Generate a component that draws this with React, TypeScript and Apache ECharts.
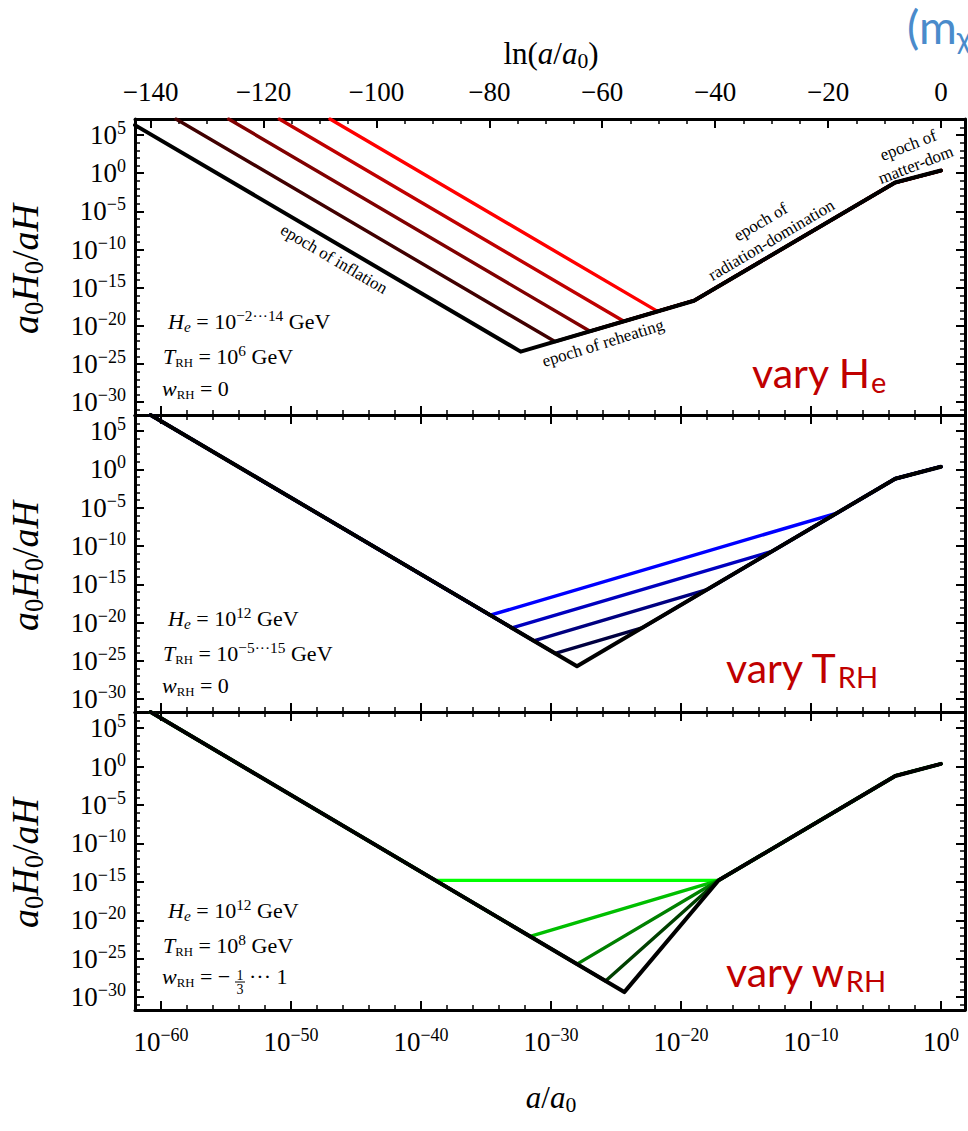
import React, { useEffect, useRef } from "react";
import * as echarts from "echarts";

const SERIF = '"Liberation Serif", "Times New Roman", serif';
const SANS = 'Lato, "Open Sans", sans-serif';

// ---------- axis ranges (log10 units) ----------
const X_MIN = -62;
const X_MAX = 1.85;
const Y_MIN = -31.67;
const Y_MAX = 7.1;
const LN_MIN = X_MIN * Math.LN10;
const LN_MAX = X_MAX * Math.LN10;

// ---------- tick labels ----------
const X_MAJOR_TICKS = [-60, -50, -40, -30, -20, -10, 0];
const X_MINOR_TICKS = [-58, -56, -54, -52, -48, -46, -44, -42, -38, -36, -34, -32, -28, -26, -24, -22, -18, -16, -14, -12, -8, -6, -4, -2];
const Y_MAJOR_TICKS = [-30, -25, -20, -15, -10, -5, 0, 5];
const Y_MINOR_TICKS = [-31, -29, -28, -27, -26, -24, -23, -22, -21, -19, -18, -17, -16, -14, -13, -12, -11, -9, -8, -7, -6, -4, -3, -2, -1, 1, 2, 3, 4, 6, 7];
const LN_MAJOR_TICKS = [-140, -120, -100, -80, -60, -40, -20, 0];
const LN_MINOR_TICKS = [-135, -130, -125, -115, -110, -105, -95, -90, -85, -75, -70, -65, -55, -50, -45, -35, -30, -25, -15, -10, -5];

// ---------- panel 1: vary H_e  ([log10 a/a0, log10 a0H0/aH]) ----------
const HE_1E14 = [[-62, 6.3], [-32.33, -23.37], [-19.0, -16.7], [-3.52, -1.22], [0, 0.35]];
const HE_1E10 = [[-58.85, 7.1], [-29.7, -22.05], [-19.0, -16.7], [-3.52, -1.22], [0, 0.35]];
const HE_1E6 = [[-54.8, 7.1], [-27.0, -20.7], [-19.0, -16.7], [-3.52, -1.22], [0, 0.35]];
const HE_1E2 = [[-50.9, 7.1], [-24.4, -19.4], [-19.0, -16.7], [-3.52, -1.22], [0, 0.35]];
const HE_1EM2 = [[-47.0, 7.1], [-21.8, -18.1], [-19.0, -16.7], [-3.52, -1.22], [0, 0.35]];

// ---------- panel 2: vary T_RH ----------
const TRH_1E15 = [[-60.8, 7.1], [-28.0, -25.7], [-3.52, -1.22], [0, 0.35]];
const TRH_1E10 = [[-60.8, 7.1], [-29.67, -24.03], [-23.0, -20.7], [-3.52, -1.22], [0, 0.35]];
const TRH_1E5 = [[-60.8, 7.1], [-31.33, -22.37], [-18.0, -15.7], [-3.52, -1.22], [0, 0.35]];
const TRH_1E0 = [[-60.8, 7.1], [-33.0, -20.7], [-13.0, -10.7], [-3.52, -1.22], [0, 0.35]];
const TRH_1EM5 = [[-60.8, 7.1], [-34.67, -19.03], [-8.0, -5.7], [-3.52, -1.22], [0, 0.35]];

// ---------- panel 3: vary w_RH ----------
const W_1 = [[-60.8, 7.1], [-24.36, -29.34], [-17.1, -14.8], [-3.52, -1.22], [0, 0.35]];
const W_2_3 = [[-60.8, 7.1], [-25.8, -27.9], [-17.1, -14.8], [-3.52, -1.22], [0, 0.35]];
const W_1_3 = [[-60.8, 7.1], [-28.0, -25.7], [-17.1, -14.8], [-3.52, -1.22], [0, 0.35]];
const W_0 = [[-60.8, 7.1], [-31.6, -22.1], [-17.1, -14.8], [-3.52, -1.22], [0, 0.35]];
const W_M1_3 = [[-60.8, 7.1], [-38.9, -14.8], [-17.1, -14.8], [-3.52, -1.22], [0, 0.35]];

const PANEL1 = [
  { data: HE_1EM2, color: "#ff0000" },
  { data: HE_1E2, color: "#bf0000" },
  { data: HE_1E6, color: "#800000" },
  { data: HE_1E10, color: "#400000" },
  { data: HE_1E14, color: "#000000" },
];
const PANEL2 = [
  { data: TRH_1EM5, color: "#0000ff" },
  { data: TRH_1E0, color: "#0000bf" },
  { data: TRH_1E5, color: "#000080" },
  { data: TRH_1E10, color: "#000040" },
  { data: TRH_1E15, color: "#000000" },
];
const PANEL3 = [
  { data: W_M1_3, color: "#00ff00" },
  { data: W_0, color: "#00bf00" },
  { data: W_1_3, color: "#008000" },
  { data: W_2_3, color: "#004000" },
  { data: W_1, color: "#000000" },
];

const GRID_TOPS = [119, 415, 712];
const GRID_HEIGHTS = [296, 297, 298];

const expFmt = (v: number) =>
  v === 0 ? "{b|10}{s|0}" : v > 0 ? `{b|10}{s|${v}}` : `{b|10}{s|\u2212${-v}}`;

const expRich = {
  b: { fontFamily: SERIF, fontSize: 27, lineHeight: 32, color: "#000" },
  s: { fontFamily: SERIF, fontSize: 18, lineHeight: 20, verticalAlign: "top", color: "#000" },
};

const mathRich = (s: number, fill = "#000") => ({
  r: { fontFamily: SERIF, fontSize: s, lineHeight: s * 1.2, fill, color: fill },
  i: { fontFamily: SERIF, fontStyle: "italic", fontSize: s, lineHeight: s * 1.2, fill, color: fill },
  sb: { fontFamily: SERIF, fontSize: s * 0.7, lineHeight: s * 0.7, verticalAlign: "bottom", fill, color: fill },
  isb: { fontFamily: SERIF, fontStyle: "italic", fontSize: s * 0.7, lineHeight: s * 0.7, verticalAlign: "bottom", fill, color: fill },
  sc: { fontFamily: SERIF, fontSize: s * 0.58, lineHeight: s * 0.7, verticalAlign: "bottom", fill, color: fill },
  sup: { fontFamily: SERIF, fontSize: s * 0.7, lineHeight: s * 0.7, verticalAlign: "top", fill, color: fill },
});

const varyRich = {
  m: { fontFamily: SANS, fontSize: 41, lineHeight: 48, fill: "#c00000", color: "#c00000" },
  s: { fontFamily: SANS, fontSize: 29, lineHeight: 20, verticalAlign: "bottom", fill: "#c00000", color: "#c00000" },
};

function buildXAxes(g: number) {
  const isBottom = g === 2;
  const isTop = g === 0;
  const line = { show: true, onZero: false, lineStyle: { color: "#000", width: 3 } };
  const axes: any[] = [
    {
      type: "value", gridIndex: g, min: X_MIN, max: X_MAX, position: "bottom",
      axisLine: line,
      axisTick: { show: true, inside: true, length: 9, customValues: X_MAJOR_TICKS, lineStyle: { color: "#000", width: 2 } },
      axisLabel: { show: isBottom, customValues: X_MAJOR_TICKS, margin: 16, formatter: expFmt, rich: expRich },
      splitLine: { show: false },
    },
    {
      type: "value", gridIndex: g, min: X_MIN, max: X_MAX, position: "bottom",
      axisLine: { show: false, onZero: false },
      axisTick: { show: true, inside: true, length: 5, customValues: X_MINOR_TICKS, lineStyle: { color: "#000", width: 1.5 } },
      axisLabel: { show: false },
      splitLine: { show: false },
    },
  ];
  if (isTop) {
    axes.push(
      {
        type: "value", gridIndex: g, min: LN_MIN, max: LN_MAX, position: "top",
        axisLine: line,
        axisTick: { show: true, inside: true, length: 9, customValues: LN_MAJOR_TICKS, lineStyle: { color: "#000", width: 2 } },
        axisLabel: {
          show: true, customValues: LN_MAJOR_TICKS, margin: 14,
          formatter: (v: number) => (v === 0 ? "0" : "\u2212" + -v),
          fontFamily: SERIF, fontSize: 27, color: "#000",
        },
        splitLine: { show: false },
      },
      {
        type: "value", gridIndex: g, min: LN_MIN, max: LN_MAX, position: "top",
        axisLine: { show: false, onZero: false },
        axisTick: { show: true, inside: true, length: 5, customValues: LN_MINOR_TICKS, lineStyle: { color: "#000", width: 1.5 } },
        axisLabel: { show: false },
        splitLine: { show: false },
      }
    );
  } else {
    axes.push(
      {
        type: "value", gridIndex: g, min: X_MIN, max: X_MAX, position: "top",
        axisLine: line,
        axisTick: { show: true, inside: true, length: 9, customValues: X_MAJOR_TICKS, lineStyle: { color: "#000", width: 2 } },
        axisLabel: { show: false },
        splitLine: { show: false },
      },
      {
        type: "value", gridIndex: g, min: X_MIN, max: X_MAX, position: "top",
        axisLine: { show: false, onZero: false },
        axisTick: { show: true, inside: true, length: 5, customValues: X_MINOR_TICKS, lineStyle: { color: "#000", width: 1.5 } },
        axisLabel: { show: false },
        splitLine: { show: false },
      }
    );
  }
  return axes;
}

function buildYAxes(g: number) {
  const line = { show: true, onZero: false, lineStyle: { color: "#000", width: 3 } };
  return ["left", "right"].flatMap((pos) => [
    {
      type: "value", gridIndex: g, min: Y_MIN, max: Y_MAX, position: pos,
      axisLine: line,
      axisTick: { show: true, inside: true, length: 9, customValues: Y_MAJOR_TICKS, lineStyle: { color: "#000", width: 2 } },
      axisLabel: { show: pos === "left", customValues: Y_MAJOR_TICKS, margin: 9, formatter: expFmt, rich: expRich },
      splitLine: { show: false },
    },
    {
      type: "value", gridIndex: g, min: Y_MIN, max: Y_MAX, position: pos,
      axisLine: { show: false, onZero: false },
      axisTick: { show: true, inside: true, length: 5, customValues: Y_MINOR_TICKS, lineStyle: { color: "#000", width: 1.5 } },
      axisLabel: { show: false },
      splitLine: { show: false },
    },
  ]);
}

function buildSeries() {
  const out: any[] = [];
  [PANEL1, PANEL2, PANEL3].forEach((panel, g) => {
    panel.forEach((s) => {
      out.push({
        type: "line",
        xAxisIndex: g * 4,
        yAxisIndex: g * 4,
        data: s.data,
        showSymbol: false,
        symbol: "none",
        silent: true,
        lineStyle: { color: s.color, width: s.color === "#000000" ? 4 : 3.4, cap: "round", join: "round" },
      });
    });
  });
  return out;
}

function txt(x: number, y: number, text: string, rich: any, opts: any = {}) {
  return {
    type: "text",
    x,
    y,
    rotation: opts.rotation || 0,
    silent: true,
    style: {
      text,
      rich,
      align: opts.align || "left",
      textAlign: opts.align || "left",
      verticalAlign: opts.va || "top",
      textVerticalAlign: opts.va || "top",
      fill: opts.fill || "#000",
      fontFamily: opts.fontFamily || SERIF,
      fontSize: opts.fontSize || 20,
      lineHeight: opts.lineHeight,
    },
  };
}

function buildGraphics() {
  const m22 = mathRich(22);
  const g: any[] = [];
  // axis titles
  g.push(txt(551, 53, "{r|ln(}{i|a}{r|/}{i|a}{sb|0}{r|)}", mathRich(31), { align: "center", va: "middle" }));
  g.push(txt(551, 1097, "{i|a}{r|/}{i|a}{sb|0}", mathRich(31), { align: "center", va: "middle" }));
  [269, 566, 863].forEach((cy) => {
    g.push(txt(25, cy, "{i|a}{sb|0}{i|H}{sb|0}{r|/}{i|aH}", mathRich(38), { align: "center", va: "middle", rotation: Math.PI / 2 }));
  });
  // panel 1 parameters
  g.push(txt(168, 308, "{i|H}{isb|e}{r| = 10}{sup|\u22122\u00b7\u00b7\u00b714}{r| GeV}", m22));
  g.push(txt(163, 343, "{i|T}{sc|RH}{r| = 10}{sup|6}{r| GeV}", m22));
  g.push(txt(162, 375, "{i|w}{sc|RH}{r| = 0}", m22));
  // panel 2 parameters
  g.push(txt(168, 605, "{i|H}{isb|e}{r| = 10}{sup|12}{r| GeV}", m22));
  g.push(txt(163, 640, "{i|T}{sc|RH}{r| = 10}{sup|\u22125\u00b7\u00b7\u00b715}{r| GeV}", m22));
  g.push(txt(162, 672, "{i|w}{sc|RH}{r| = 0}", m22));
  // panel 3 parameters
  g.push(txt(168, 897, "{i|H}{isb|e}{r| = 10}{sup|12}{r| GeV}", m22));
  g.push(txt(163, 932, "{i|T}{sc|RH}{r| = 10}{sup|8}{r| GeV}", m22));
  g.push(txt(162, 963, "{i|w}{sc|RH}{r| = \u2212}", m22));
  g.push(txt(240, 975, "1", null, { align: "center", va: "middle", fontSize: 14 }));
  g.push(txt(240, 989, "3", null, { align: "center", va: "middle", fontSize: 14 }));
  g.push({ type: "line", silent: true, shape: { x1: 235, y1: 982, x2: 245, y2: 982 }, style: { stroke: "#000", lineWidth: 1 } });
  g.push(txt(249, 963, "{r|\u00b7\u00b7\u00b7 1}", m22));
  // epoch labels
  g.push(txt(334, 259, "epoch of inflation", null, { align: "center", va: "middle", rotation: -0.533, fontSize: 17 }));
  g.push(txt(603, 343, "epoch of reheating", null, { align: "center", va: "middle", rotation: 0.3, fontSize: 17 }));
  g.push(txt(766, 231, "epoch of\nradiation-domination", null, { align: "center", va: "middle", rotation: 0.533, fontSize: 17, lineHeight: 21 }));
  g.push(txt(912, 155, "epoch of\nmatter-dom", null, { align: "center", va: "middle", rotation: 0.37, fontSize: 17, lineHeight: 21 }));
  // vary labels
  g.push(txt(752, 348, "{m|vary H}{s|e}", varyRich, { fill: "#c00000" }));
  g.push(txt(726, 643, "{m|vary T}{s|RH}", varyRich, { fill: "#c00000" }));
  g.push(txt(726, 947, "{m|vary w}{s|RH}", varyRich, { fill: "#c00000" }));
  // blue label that the reference shows cut off at the right edge
  g.push(txt(907, 0, "{m|(m}{s|\u03c7}", {
    m: { fontFamily: SANS, fontSize: 46, lineHeight: 52, fill: "#4a8bcb", color: "#4a8bcb" },
    s: { fontFamily: SANS, fontSize: 30, lineHeight: 20, verticalAlign: "bottom", fill: "#4a8bcb", color: "#4a8bcb" },
  }, { fill: "#4a8bcb" }));
  return g;
}

export default function App() {
  const ref = useRef<HTMLDivElement>(null);
  useEffect(() => {
    if (!ref.current) return;
    const chart = echarts.init(ref.current, null, { renderer: "svg" });
    const option: any = {
      animation: false,
      backgroundColor: "#ffffff",
      grid: GRID_TOPS.map((t, i) => ({ left: 135, right: 3, top: t, height: GRID_HEIGHTS[i] })),
      xAxis: [0, 1, 2].flatMap((g) => buildXAxes(g)),
      yAxis: [0, 1, 2].flatMap((g) => buildYAxes(g)),
      series: buildSeries(),
      graphic: buildGraphics(),
    };
    chart.setOption(option);
    return () => chart.dispose();
  }, []);
  return (
    <div
      ref={ref}
      style={{ position: "fixed", left: 0, top: 0, width: 968, height: 1131, background: "#fff" }}
    />
  );
}
